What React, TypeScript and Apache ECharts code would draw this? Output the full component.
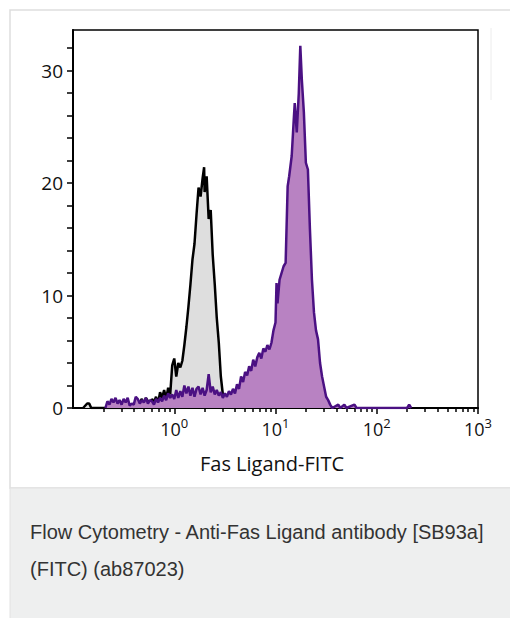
import React, { useEffect, useRef } from "react";
import * as echarts from "echarts";

// Fluorescence channel in log10 units (10^-1 .. 10^3) and event counts
const isotypeLog = [
  -0.9, -0.86, -0.84, -0.82, -0.36, -0.34, -0.32, -0.3, -0.28, -0.26, -0.24, -0.22, -0.2, -0.18, -0.16,
  -0.14, -0.12, -0.1, -0.08, -0.06, -0.04, -0.02, 0.0, 0.02, 0.04, 0.06, 0.08, 0.1, 0.12, 0.14, 0.16,
  0.18, 0.2, 0.22, 0.24, 0.26, 0.28, 0.295, 0.3, 0.32, 0.34, 0.36, 0.38, 0.4, 0.42, 0.44, 0.46, 0.48,
  0.5, 0.52, 0.54,
];
const isotypeCount = [
  0, 0.4, 0.4, 0, 0, 0.5, 0.8, 0.3, 0.9, 0.6, 0.2, 0.8, 0.5, 1.0, 0.4,
  1.4, 0.9, 1.6, 0.8, 1.8, 1.2, 3.8, 4.4, 2.8, 4.0, 3.6, 4.2, 5.6, 7.2, 9.0, 11.0,
  13.2, 14.6, 17.2, 19.6, 18.8, 20.4, 21.4, 19.2, 20.6, 16.8, 17.6, 13.6, 11.0, 8.0, 5.8, 2.8, 1.2,
  0.4, 0.6, 0,
];

const fasLLog = [
  -0.68, -0.66, -0.64, -0.62, -0.6, -0.58, -0.56, -0.54, -0.52, -0.5, -0.48, -0.46, -0.44, -0.42, -0.4,
  -0.38, -0.36, -0.34, -0.32, -0.3, -0.28, -0.26, -0.24, -0.22, -0.2, -0.18, -0.16, -0.14, -0.12, -0.1,
  -0.08, -0.06, -0.04, -0.02, 0.0, 0.02, 0.04, 0.06, 0.08, 0.1, 0.12, 0.14, 0.16, 0.18, 0.2,
  0.22, 0.24, 0.26, 0.28, 0.3, 0.32, 0.34, 0.36, 0.38, 0.4, 0.42, 0.44, 0.46, 0.48, 0.5,
  0.52, 0.54, 0.56, 0.58, 0.6, 0.62, 0.64, 0.66, 0.68, 0.7, 0.72, 0.74, 0.76, 0.78, 0.8,
  0.82, 0.84, 0.86, 0.88, 0.9, 0.92, 0.94, 0.96, 0.98, 1.0, 1.01, 1.02, 1.04, 1.06, 1.08,
  1.1, 1.12, 1.135, 1.16, 1.18, 1.19, 1.21, 1.23, 1.245, 1.26, 1.28, 1.3, 1.32, 1.34, 1.36,
  1.38, 1.4, 1.42, 1.44, 1.46, 1.48, 1.5, 1.52, 1.54, 1.56, 1.62, 1.64, 1.68, 1.7, 1.78,
  1.8, 2.3, 2.32, 2.34,
];
const fasLCount = [
  0, 0.6, 0.3, 0.8, 0.5, 0.9, 0.4, 0.7, 0.3, 0.8, 0.5, 0.9, 0.2, 0.4, 0.3,
  1.0, 0.8, 0.4, 0.7, 0.5, 0.9, 0.4, 0.7, 0.6, 0.3, 0.8, 0.5, 0.9, 0.6, 1.1,
  0.7, 1.3, 0.9, 1.2, 0.8, 1.6, 0.9, 1.5, 1.0, 2.0, 1.3, 1.9, 1.1, 1.8, 1.0,
  1.7, 1.9, 1.2, 1.8, 1.1, 1.6, 3.0, 1.4, 1.9, 1.2, 1.6, 1.1, 1.4, 0.9, 1.3,
  1.0, 1.5, 1.2, 1.7, 1.3, 2.1, 1.7, 2.8, 2.3, 3.2, 2.9, 3.7, 3.3, 4.3, 3.7,
  4.5, 4.9, 4.4, 5.3, 5.0, 5.6, 5.2, 5.8, 6.9, 7.6, 11.1, 9.3, 11.4, 12.0, 12.6,
  12.9, 19.7, 20.6, 22.4, 25.6, 27.1, 24.5, 28.0, 32.2, 29.2, 26.3, 21.8, 21.2, 15.9, 11.4,
  8.5, 6.9, 6.1, 4.0, 2.8, 1.9, 1.0, 0.7, 0.3, 0, 0.3, 0, 0.3, 0, 0.3,
  0, 0, 0.3, 0,
];

const xDecades = [0, 1, 2, 3];
const yLabels = [0, 10, 20, 30];
const yTicks = [0, 2, 4, 6, 8, 10, 12, 14, 16, 18, 20, 22, 24, 26, 28, 30, 32];
const xTitle = "Fas Ligand-FITC";
const captionLines = ["Flow Cytometry - Anti-Fas Ligand antibody [SB93a]", "(FITC) (ab87023)"];

const minorTickValues: number[] = [];
for (let n = -1; n < 3; n++) {
  for (let k = 2; k <= 9; k++) minorTickValues.push(n + Math.log10(k));
}

const FONT = "Open Sans";

export default function App() {
  const ref = useRef<HTMLDivElement>(null);
  useEffect(() => {
    if (!ref.current) return;
    const chart = echarts.init(ref.current, null, { renderer: "svg" });
    chart.setOption({
      animation: false,
      backgroundColor: "#ffffff",
      grid: {
        left: 73,
        top: 30,
        width: 405,
        height: 378,
        show: true,
        borderColor: "#000",
        borderWidth: 1.5,
        backgroundColor: "transparent",
      },
      xAxis: [
        {
          type: "value",
          min: -1,
          max: 3,
          position: "bottom",
          axisLine: { show: true, onZero: false, lineStyle: { color: "#000", width: 2 } },
          axisTick: { show: true, length: 6, customValues: xDecades, lineStyle: { color: "#000", width: 1.5 } },
          axisLabel: {
            customValues: xDecades,
            margin: 8,
            formatter: (v: number) => `{b|10}{s|${v}}`,
            rich: {
              b: { fontFamily: FONT, fontSize: 18, color: "#111", verticalAlign: "bottom", lineHeight: 22 },
              s: { fontFamily: FONT, fontSize: 13, color: "#111", verticalAlign: "top", lineHeight: 22, padding: [0, 0, 6, 0] },
            },
          },
          splitLine: { show: false },
          name: xTitle,
          nameLocation: "middle",
          nameGap: 45,
          nameTextStyle: { fontFamily: FONT, fontSize: 20, color: "#111", padding: [0, 7, 0, 0] },
        },
        {
          type: "value",
          min: -1,
          max: 3,
          position: "bottom",
          axisLine: { show: false, onZero: false },
          axisTick: { show: true, length: 4, customValues: minorTickValues, lineStyle: { color: "#000", width: 1.5 } },
          axisLabel: { show: false },
          splitLine: { show: false },
        },
      ],
      yAxis: {
        type: "value",
        min: 0,
        max: 33.6,
        axisLine: { show: true, onZero: false, lineStyle: { color: "#000", width: 2 } },
        axisTick: { show: true, length: 6, customValues: yTicks, lineStyle: { color: "#000", width: 1.5 } },
        axisLabel: { customValues: yLabels, margin: 10, fontFamily: FONT, fontSize: 19, color: "#111" },
        splitLine: { show: false },
      },
      graphic: [
        { type: "rect", z: -10, shape: { x: 10, y: 10, width: 510, height: 478 }, style: { fill: "#fff", stroke: "#dedede", lineWidth: 1.5 } },
        { type: "rect", z: -10, shape: { x: 10, y: 488, width: 510, height: 140 }, style: { fill: "#eeefef", stroke: "#e2e2e2", lineWidth: 1 } },
        { type: "line", z: -5, shape: { x1: 491, y1: 28, x2: 491, y2: 100 }, style: { stroke: "#ececec", lineWidth: 1 } },
        {
          type: "text",
          left: 30,
          top: 522,
          style: { text: captionLines[0], fontFamily: "Liberation Sans", fontSize: 20, fill: "#333" },
        },
        {
          type: "text",
          left: 30,
          top: 559,
          style: { text: captionLines[1], fontFamily: "Liberation Sans", fontSize: 20, fill: "#333" },
        },
      ],
      series: [
        {
          type: "line",
          name: "Isotype control",
          xAxisIndex: 0,
          data: isotypeLog.map((x, i) => [x, isotypeCount[i]]),
          showSymbol: false,
          lineStyle: { color: "#000", width: 2.5 },
          areaStyle: { color: "#dedede", opacity: 1 },
          z: 2,
        },
        {
          type: "line",
          name: "Fas Ligand",
          xAxisIndex: 0,
          data: fasLLog.map((x, i) => [x, fasLCount[i]]),
          showSymbol: false,
          lineStyle: { color: "#4b1183", width: 2.5 },
          areaStyle: { color: "#b882c2", opacity: 1 },
          z: 3,
        },
      ],
    });
    return () => chart.dispose();
  }, []);
  return <div ref={ref} style={{ position: "absolute", left: 0, top: 0, width: 510, height: 618 }} />;
}
